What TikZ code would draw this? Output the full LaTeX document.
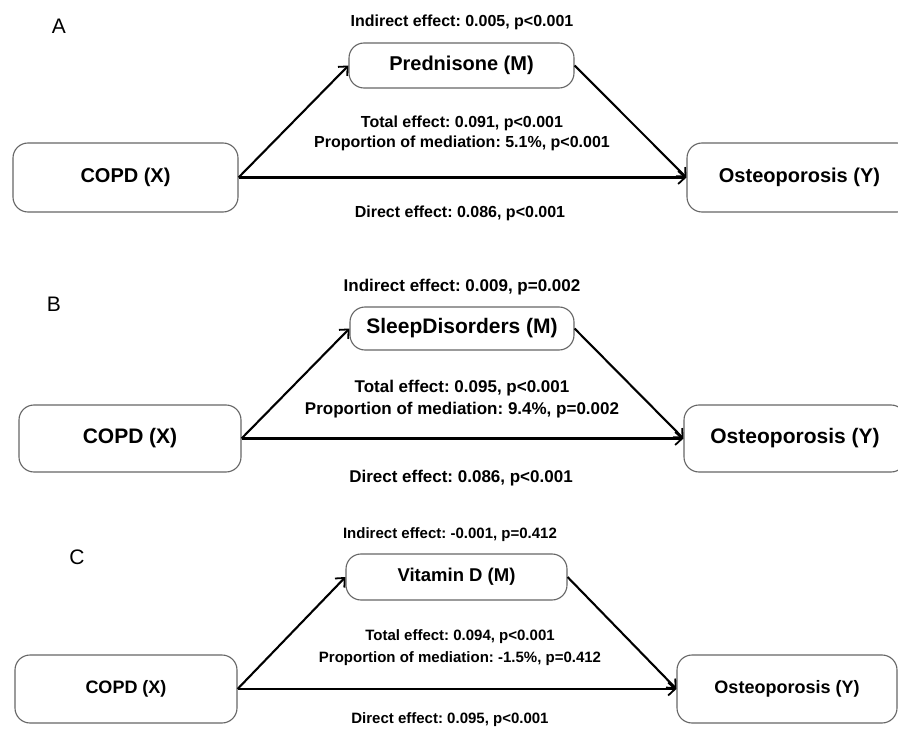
\documentclass[tikz,border=0pt]{standalone}
\usepackage{fontspec}
\setmainfont{Liberation Sans}
\usetikzlibrary{arrows.meta}
\newcommand\fsz[1]{\fontsize{#1}{#1}\selectfont}
\frenchspacing
\begin{document}
\begin{tikzpicture}[x=1pt,y=-1pt,
  box/.style={draw=black!60,line width=1.1pt,rounded corners=15pt,inner sep=0pt,align=center},
  arr/.style={line width=2.1pt,-{Straight Barb[length=7pt,width=13pt,line width=1.8pt]}},
  lbl/.style={inner sep=0pt},
  panellbl/.style={inner sep=0pt,font=\fsz{21}}]
\useasboundingbox (0,0) rectangle (898,733);
\fill[white] (0,0) rectangle (898,733);

% ---------------- Panel A ----------------
\node[panellbl] (la) at (59,26) {A};
\node[lbl,font=\fsz{16}\bfseries] (ia) at (462,22) {Indirect effect: 0.005, p<0.001};
\node[box,minimum width=225pt,minimum height=45pt,font=\fsz{20}\bfseries] (ma) at (461.5,65.5) {Prednisone (M)};
\node[lbl,font=\fsz{16}\bfseries] (ta) at (462,123) {Total effect: 0.091, p<0.001};
\node[lbl,font=\fsz{16}\bfseries] (pa) at (462,143) {Proportion of mediation: 5.1\%, p<0.001};
\node[box,minimum width=225pt,minimum height=69pt,font=\fsz{20}\bfseries] (xa) at (125.5,177.5) {COPD (X)};
\node[box,minimum width=225pt,minimum height=69pt,font=\fsz{20}\bfseries] (ya) at (799.5,177.5) {Osteoporosis (Y)};
\node[lbl,font=\fsz{16}\bfseries] (da) at (460,213) {Direct effect: 0.086, p<0.001};
\draw[arr] (xa.east) -- (ya.west);
\draw[arr] (xa.east) -- (ma.west);
\draw[arr] (ma.east) -- (ya.west);

% ---------------- Panel B ----------------
\node[panellbl] (lb) at (54,304) {B};
\node[lbl,font=\fsz{17}\bfseries] (ib) at (462,287) {Indirect effect: 0.009, p=0.002};
\node[box,minimum width=224pt,minimum height=43pt,font=\fsz{21}\bfseries] (mb) at (462,328.5) {SleepDisorders (M)};
\node[lbl,font=\fsz{17}\bfseries] (tb) at (462,388) {Total effect: 0.095, p<0.001};
\node[lbl,font=\fsz{17}\bfseries] (pb) at (462,410) {Proportion of mediation: 9.4\%, p=0.002};
\node[box,minimum width=222pt,minimum height=67pt,font=\fsz{21}\bfseries] (xb) at (130,438.5) {COPD (X)};
\node[box,minimum width=222pt,minimum height=67pt,font=\fsz{21}\bfseries] (yb) at (795,438.5) {Osteoporosis (Y)};
\node[lbl,font=\fsz{17}\bfseries] (db) at (461,478) {Direct effect: 0.086, p<0.001};
\draw[arr] (xb.east) -- (yb.west);
\draw[arr] (xb.east) -- (mb.west);
\draw[arr] (mb.east) -- (yb.west);

% ---------------- Panel C ----------------
\node[panellbl] (lc) at (77,557) {C};
\node[lbl,font=\fsz{15}\bfseries] (ic) at (450,535) {Indirect effect: -0.001, p=0.412};
\node[box,minimum width=221pt,minimum height=46pt,font=\fsz{18.5}\bfseries] (mc) at (456.5,577) {Vitamin D (M)};
\node[lbl,font=\fsz{15}\bfseries] (tc) at (460,637) {Total effect: 0.094, p<0.001};
\node[lbl,font=\fsz{15}\bfseries] (pc) at (460,659) {Proportion of mediation: -1.5\%, p=0.412};
\node[box,minimum width=222pt,minimum height=68pt,font=\fsz{18}\bfseries] (xc) at (126,689) {COPD (X)};
\node[box,minimum width=220pt,minimum height=68pt,font=\fsz{18}\bfseries] (yc) at (787,689) {Osteoporosis (Y)};
\node[lbl,font=\fsz{15}\bfseries] (dc) at (450,720) {Direct effect: 0.095, p<0.001};
\draw[arr] (xc.east) -- (yc.west);
\draw[arr] (xc.east) -- (mc.west);
\draw[arr] (mc.east) -- (yc.west);
\end{tikzpicture}
\end{document}
